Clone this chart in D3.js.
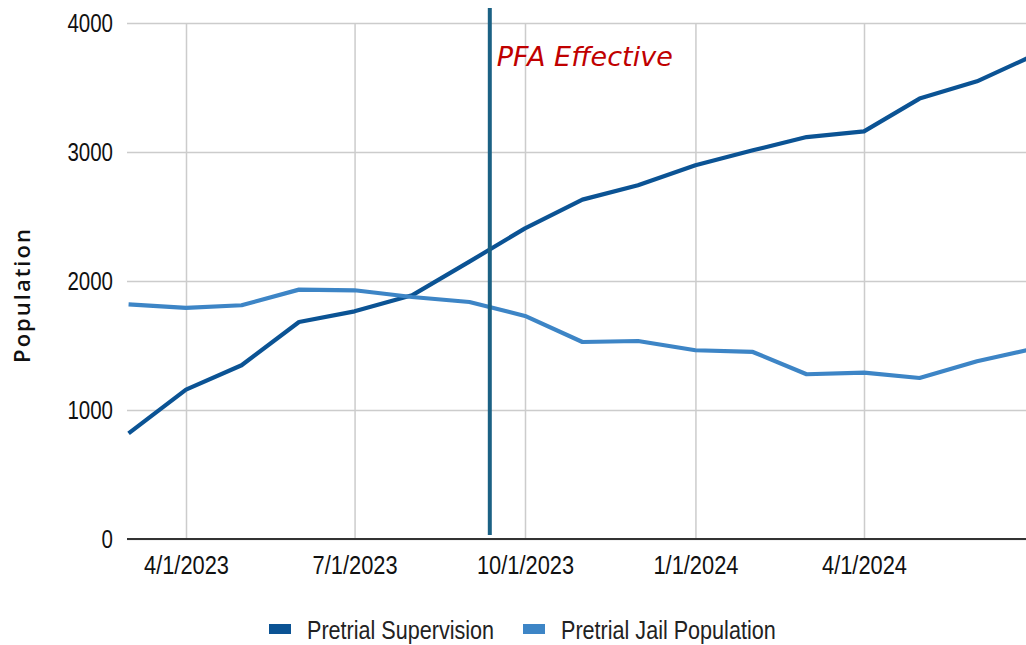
<!DOCTYPE html>
<html>
<head>
<meta charset="utf-8">
<script src="https://cdn.jsdelivr.net/npm/d3@7"></script>
<style>
  body { margin: 0; background: #fff; }
  .grid line { stroke: #cccccc; stroke-width: 1.5; }
  .grid path { display: none; }
  .tickText text { font-family: "Liberation Sans Narrow", "Arial Narrow", "Liberation Sans", sans-serif; font-size: 25px; fill: #111; }
  .xText text { font-size: 26px; }
</style>
</head>
<body>
<div id="chart"></div>
<script>
// data
const months = ["2023-03-01", "2023-04-01", "2023-05-01", "2023-06-01", "2023-07-01", "2023-08-01",
  "2023-09-01", "2023-10-01", "2023-11-01", "2023-12-01", "2024-01-01", "2024-02-01",
  "2024-03-01", "2024-04-01", "2024-05-01", "2024-06-01", "2024-07-01"];
const supervision = [819, 1158, 1347, 1682, 1765, 1889, 2150, 2408, 2631, 2742, 2897, 3013, 3116, 3160, 3414, 3548, 3745];
const jail = [1819, 1791, 1812, 1933, 1928, 1876, 1837, 1729, 1527, 1535, 1463, 1450, 1277, 1290, 1248, 1378, 1473];
const seriesNames = ["Pretrial Supervision", "Pretrial Jail Population"];
const yTicks = [0, 1000, 2000, 3000, 4000];
const xTicks = ["2023-04-01", "2023-07-01", "2023-10-01", "2024-01-01", "2024-04-01"];
const pfaDate = "2023-09-12";

const width = 1026, height = 645;
const margin = { top: 23, bottom: 106, left: 127 };
const colors = ["#0b5394", "#3d85c6"];

const parse = d3.utcParse("%Y-%m-%d");

// no narrow font installed, so squeeze the glyphs
function narrow(sel, k = 0.82) {
  sel.each(function () {
    const w = this.getComputedTextLength();
    d3.select(this).attr("textLength", w * k).attr("lengthAdjust", "spacingAndGlyphs");
  });
}

const svg = d3.select("#chart").append("svg")
  .attr("width", width)
  .attr("height", height);

// the plot runs a little past the right edge of the picture
const xScale = d3.scaleUtc()
  .domain([parse("2023-04-01"), parse("2024-04-01")])
  .range([186, 864]);

const yScale = d3.scaleLinear()
  .domain([0, 4000])
  .range([height - margin.bottom, margin.top]);

// horizontal grid
svg.append("g")
  .attr("class", "grid")
  .attr("transform", `translate(${margin.left}, 0)`)
  .call(d3.axisLeft(yScale).tickValues(yTicks).tickSize(-(width - margin.left)).tickFormat(""));

// vertical grid
svg.append("g")
  .attr("class", "grid")
  .attr("transform", `translate(0, ${height - margin.bottom})`)
  .call(d3.axisBottom(xScale).tickValues(xTicks.map(parse)).tickSize(-(height - margin.bottom - margin.top)).tickFormat(""));

// baseline
svg.append("line")
  .attr("x1", margin.left)
  .attr("x2", width)
  .attr("y1", yScale(0))
  .attr("y2", yScale(0))
  .attr("stroke", "#333")
  .attr("stroke-width", 2);

// y labels
const yAxisGroup = svg.append("g")
  .attr("class", "tickText")
  .attr("transform", `translate(${margin.left}, 0)`)
  .call(d3.axisLeft(yScale).tickValues(yTicks).tickSize(0).tickPadding(14).tickFormat(d3.format("d")));
yAxisGroup.select(".domain").remove();
yAxisGroup.selectAll("text").call(narrow);

// x labels
const xAxisGroup = svg.append("g")
  .attr("class", "tickText xText")
  .attr("transform", `translate(0, ${height - margin.bottom})`)
  .call(d3.axisBottom(xScale).tickValues(xTicks.map(parse)).tickSize(0).tickPadding(17).tickFormat(d3.utcFormat("%-m/%-d/%Y")));
xAxisGroup.select(".domain").remove();
xAxisGroup.selectAll("text").call(narrow, 0.84);

// y title
svg.append("text")
  .attr("transform", `translate(${30}, ${295})rotate(-90)`)
  .attr("text-anchor", "middle")
  .attr("font-family", "'Open Sans', sans-serif")
  .attr("font-weight", 600)
  .attr("font-size", 22)
  .attr("letter-spacing", 2)
  .attr("fill", "#111")
  .text("Population");

// lines
const line = d3.line()
  .x((d, i) => xScale(parse(months[i])))
  .y(d => yScale(d));

[supervision, jail].forEach((s, k) => {
  svg.append("path")
    .datum(s)
    .attr("fill", "none")
    .attr("stroke", colors[k])
    .attr("stroke-width", 4.2)
    .attr("stroke-linejoin", "round")
    .attr("d", line);
});

// PFA marker
svg.append("line")
  .attr("x1", xScale(parse(pfaDate)))
  .attr("x2", xScale(parse(pfaDate)))
  .attr("y1", 8)
  .attr("y2", 535)
  .attr("stroke", "#1b6184")
  .attr("stroke-width", 4);

svg.append("text")
  .attr("x", xScale(parse(pfaDate)) + 7)
  .attr("y", 66)
  .attr("font-family", "'DejaVu Sans', sans-serif")
  .attr("font-style", "italic")
  .attr("font-size", 27)
  .attr("fill", "#c00000")
  .text("PFA Effective");

// legend
const legendX = [269, 523];
seriesNames.forEach((name, k) => {
  svg.append("rect")
    .attr("x", legendX[k])
    .attr("y", 624)
    .attr("width", 22)
    .attr("height", 10)
    .attr("fill", colors[k]);
  svg.append("text")
    .attr("x", legendX[k] + 38)
    .attr("y", 630)
    .attr("dy", "0.36em")
    .attr("font-family", "'Liberation Sans Narrow', 'Arial Narrow', 'Liberation Sans', sans-serif")
    .attr("font-size", 26)
    .attr("fill", "#222")
    .text(name)
    .call(narrow, 0.83);
});
</script>
</body>
</html>
